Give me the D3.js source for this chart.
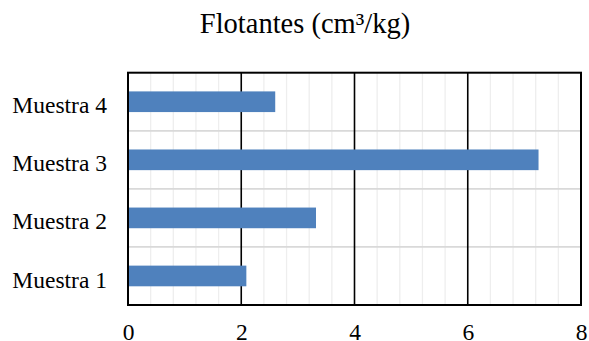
<!DOCTYPE html>
<html>
<head>
<meta charset="utf-8">
<script src="https://cdn.jsdelivr.net/npm/d3@7"></script>
<style>
  body { margin: 0; background: #fff; }
  svg { display: block; }
  text { font-family: "Liberation Serif", "Times New Roman", serif; fill: #000; }
</style>
</head>
<body>
<svg id="chart"></svg>
<script>
// datos
var categories = ["Muestra 1", "Muestra 2", "Muestra 3", "Muestra 4"];
var values = [2.09, 3.32, 7.25, 2.6];
var xTicks = [0, 2, 4, 6, 8];
var minorStep = 0.4;
var title = "Flotantes (cm³/kg)";

var width = 589, height = 341;
var pLeft = 128, pRight = 581, pTop = 72.7, pBottom = 305;
var serif = "'Liberation Serif', 'Times New Roman', serif";

var svg = d3.select("#chart").attr("width", width).attr("height", height);

var x = d3.scaleLinear().domain([0, 8]).range([pLeft, pRight]);
var y = d3.scaleBand()
  .domain(categories.slice().reverse())
  .range([pTop, pBottom])
  .paddingInner(0.644)
  .paddingOuter(0.322);

// lineas menores
var minor = d3.range(0, 8 + 1e-9, minorStep).filter(function(d) {
  return xTicks.indexOf(Math.round(d * 100) / 100) < 0;
});
svg.append("g").selectAll("line")
  .data(minor)
  .join("line")
  .attr("x1", function(d) { return x(d); })
  .attr("x2", function(d) { return x(d); })
  .attr("y1", pTop).attr("y2", pBottom)
  .attr("stroke", "#eeeeee")
  .attr("stroke-width", 1.3);

// lineas horizontales entre categorias
var step = y.step();
svg.append("g").selectAll("line")
  .data(categories.slice(1))
  .join("line")
  .attr("x1", pLeft).attr("x2", pRight)
  .attr("y1", function(d, i) { return pTop + step * (i + 1); })
  .attr("y2", function(d, i) { return pTop + step * (i + 1); })
  .attr("stroke", "#d9d9d9")
  .attr("stroke-width", 1.7);

// lineas mayores
svg.append("g").selectAll("line")
  .data(xTicks)
  .join("line")
  .attr("x1", function(d) { return x(d); })
  .attr("x2", function(d) { return x(d); })
  .attr("y1", pTop).attr("y2", pBottom)
  .attr("stroke", "#000")
  .attr("stroke-width", 1.6);

// barras
svg.append("g").selectAll("rect")
  .data(values)
  .join("rect")
  .attr("x", x(0))
  .attr("y", function(d, i) { return y(categories[i]); })
  .attr("width", function(d) { return x(d) - x(0); })
  .attr("height", y.bandwidth())
  .attr("fill", "#4f81bd");

// borde
svg.append("rect")
  .attr("x", pLeft).attr("y", pTop)
  .attr("width", pRight - pLeft).attr("height", pBottom - pTop)
  .attr("fill", "none")
  .attr("stroke", "#000")
  .attr("stroke-width", 2);

// eje x
var xAxis = svg.append("g")
  .attr("transform", "translate(0,339.5)")
  .call(d3.axisBottom(x).tickValues(xTicks).tickSize(0).tickPadding(0));
xAxis.attr("font-family", serif).attr("font-size", 23.5);
xAxis.select(".domain").remove();
xAxis.selectAll("text")
  .attr("y", 0).attr("dy", 0)
  .style("font-size", "23.5px")
  .style("font-family", serif);

// eje y
var yAxis = svg.append("g")
  .attr("transform", "translate(107,0)")
  .call(d3.axisLeft(y).tickSize(0).tickPadding(0));
yAxis.attr("font-family", serif).attr("font-size", 23.5);
yAxis.select(".domain").remove();
yAxis.selectAll("text")
  .attr("x", 0).attr("dy", "11.6px")
  .style("font-size", "23.5px")
  .style("font-family", serif);
yAxis.selectAll(".tick").attr("transform", function(d) {
  return "translate(0," + (y(d) + y.bandwidth() / 2) + ")";
});

// titulo
svg.append("text")
  .attr("x", 305)
  .attr("y", 33.3)
  .attr("text-anchor", "middle")
  .style("font-size", "28.5px")
  .text(title);
</script>
</body>
</html>
